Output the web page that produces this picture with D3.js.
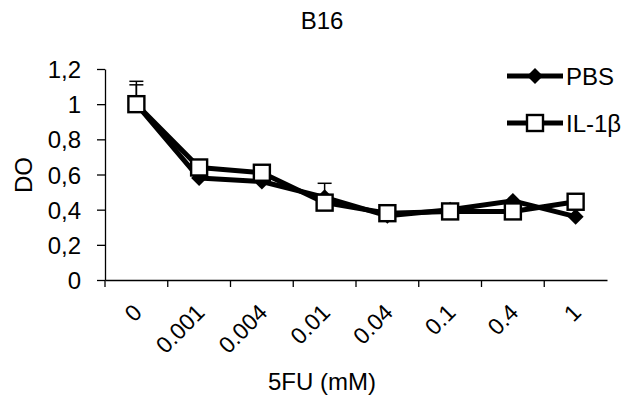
<!DOCTYPE html>
<html><head><meta charset="utf-8">
<script src="https://cdn.jsdelivr.net/npm/d3@7"></script>
<style>body{margin:0;background:#fff}svg{display:block;font-family:"Liberation Sans",Arial,sans-serif}</style>
</head><body><svg id="c" width="629" height="406"></svg>
<script>
const categories = ["0","0.001","0.004","0.01","0.04","0.1","0.4","1"];
const pbs = [1.0,0.58,0.56,0.47,0.365,0.40,0.45,0.36];
const pbsErr = [0.11,0,0,0.08,0,0,0,0];
const il1b = [1.0,0.64,0.61,0.44,0.38,0.39,0.39,0.445];
const il1bErr = [0.13,0,0,0,0,0,0,0];
const yTicks = [0,0.2,0.4,0.6,0.8,1,1.2];
const yTickLabels = ["0","0,2","0,4","0,6","0,8","1","1,2"];

const svg = d3.select("#c");
const x = d3.scaleBand().domain(categories).range([105,607]);
const y = d3.scaleLinear().domain([0,1.2]).range([280,69]);
const F = "Liberation Sans, Arial, sans-serif";
const FS = "24px";

// y axis
const yAxis = d3.axisLeft(y).tickValues(yTicks).tickFormat((d,i)=>yTickLabels[i]).tickSize(8).tickSizeOuter(0);
const gy = svg.append("g").attr("transform","translate(105,0)").call(yAxis);
gy.attr("font-size",null).attr("font-family",null);
gy.select(".domain").attr("stroke","#000").attr("stroke-width",1.3);
gy.selectAll(".tick line").attr("stroke","#000").attr("stroke-width",1.3);
gy.selectAll(".tick text").style("font-size",FS).style("font-family",F).attr("fill","#000").attr("x",-24).attr("dy","0.36em");

// x axis
const xAxis = d3.axisBottom(x).tickSize(0).tickFormat(()=> "");
const gx = svg.append("g").attr("transform","translate(0,280)").call(xAxis);
gx.select(".domain").attr("stroke","#000").attr("stroke-width",1.3);
svg.append("g").selectAll("line").data(categories).join("line")
  .attr("x1",d=>x(d)).attr("x2",d=>x(d)).attr("y1",280).attr("y2",287).attr("stroke","#000").attr("stroke-width",1.3);
svg.append("g").selectAll("text").data(categories).join("text")
  .attr("transform",d=>`translate(${x(d)+x.bandwidth()/2+7},${314}) rotate(-45)`)
  .attr("text-anchor","end").style("font-size","23px").style("font-family",F).attr("fill","#000").text(d=>d);

// titles
svg.append("text").attr("x",322).attr("y",29).attr("text-anchor","middle").style("font-size",FS).style("font-family",F).text("B16");
svg.append("text").attr("transform","translate(32,175) rotate(-90)").attr("text-anchor","middle").style("font-size",FS).style("font-family",F).text("DO");
svg.append("text").attr("x",322).attr("y",390).attr("text-anchor","middle").style("font-size",FS).style("font-family",F).text("5FU (mM)");

const cx = d => x(d)+x.bandwidth()/2;
const line = d3.line().x(d=>cx(d.c)).y(d=>y(d.v));
function series(vals, errs){ return categories.map((c,i)=>({c, v:vals[i], e:errs[i]})); }
const sP = series(pbs,pbsErr), sI = series(il1b,il1bErr);

function errBars(s){
  const g = svg.append("g");
  s.filter(d=>d.e>0).forEach(d=>{
    g.append("line").attr("x1",cx(d.c)).attr("x2",cx(d.c)).attr("y1",y(d.v)).attr("y2",y(d.v+d.e)).attr("stroke","#000").attr("stroke-width",1.5);
    g.append("line").attr("x1",cx(d.c)-7).attr("x2",cx(d.c)+7).attr("y1",y(d.v+d.e)).attr("y2",y(d.v+d.e)).attr("stroke","#000").attr("stroke-width",1.5);
  });
}
errBars(sP); errBars(sI);

svg.append("path").datum(sP).attr("d",line).attr("fill","none").attr("stroke","#000").attr("stroke-width",5).attr("stroke-linejoin","round");
svg.append("path").datum(sI).attr("d",line).attr("fill","none").attr("stroke","#000").attr("stroke-width",5).attr("stroke-linejoin","round");

const diamond = (g, px, py, r) => g.append("path").attr("d",`M${px},${py-r}L${px+r},${py}L${px},${py+r}L${px-r},${py}Z`).attr("fill","#000");
const square = (g, px, py, s) => g.append("rect").attr("x",px-s/2).attr("y",py-s/2).attr("width",s).attr("height",s).attr("fill","#fff").attr("stroke","#000").attr("stroke-width",2.4);

const gm = svg.append("g");
sP.forEach(d=>diamond(gm,cx(d.c),y(d.v),8));
sI.forEach(d=>square(gm,cx(d.c),y(d.v),16));

// legend
const lg = svg.append("g");
lg.append("line").attr("x1",507).attr("x2",563).attr("y1",76).attr("y2",76).attr("stroke","#000").attr("stroke-width",5);
diamond(lg,535,76,8);
lg.append("text").attr("x",566).attr("y",85).style("font-size",FS).style("font-family",F).text("PBS");
lg.append("line").attr("x1",507).attr("x2",563).attr("y1",123).attr("y2",123).attr("stroke","#000").attr("stroke-width",5);
square(lg,535,123,16);
lg.append("text").attr("x",566).attr("y",132).style("font-size",FS).style("font-family",F).text("IL-1β");
</script></body></html>
